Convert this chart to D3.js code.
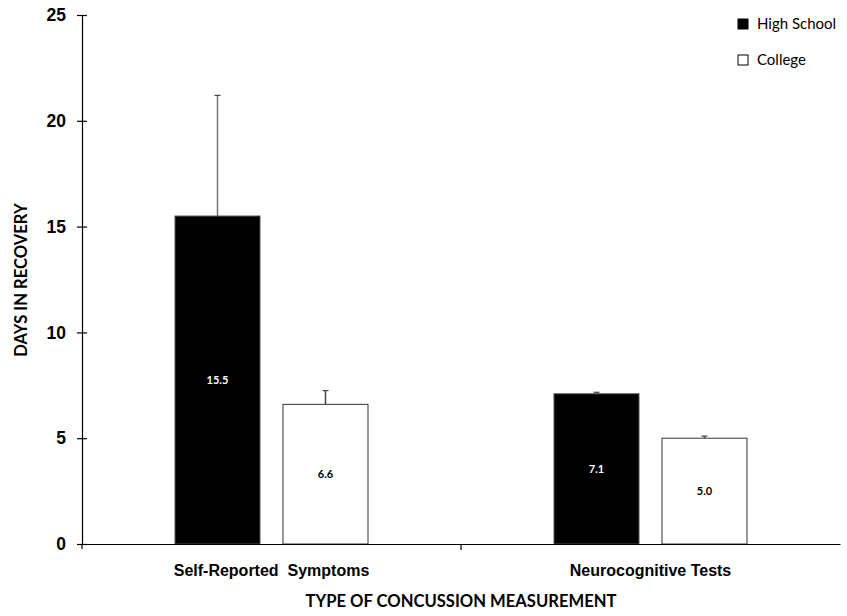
<!DOCTYPE html>
<html>
<head>
<meta charset="utf-8">
<style>
    body { margin: 0; background: #fff; }
    svg { font-family: Lato, "Open Sans", sans-serif; }
    .axis path, .axis line { stroke: #000; stroke-width: 1.2; }
    .axis text { font-weight: bold; font-size: 17.5px; fill: #000; }
    .title { font-weight: bold; font-size: 16.6px; }
    .legend text { font-size: 15px; }
</style>
</head>
<body>
<script src="https://d3js.org/d3.v7.min.js"></script>
<script>
// chart values
var categories = ["Self-Reported  Symptoms", "Neurocognitive Tests"];
var groups = ["High School", "College"];
var highSchool = [15.5, 7.1];
var highSchoolErr = [5.7, 0.07];
var college = [6.6, 5.0];
var collegeErr = [0.65, 0.1];
var yTicks = [0, 5, 10, 15, 20, 25];

var width = 847, height = 616;
var margin = { left: 82, right: 7, top: 15, bottom: 72 };

var svg = d3.select("body").append("svg")
    .attr("width", width)
    .attr("height", height);

var x = d3.scaleBand()
    .domain(categories)
    .range([margin.left, width - margin.right]);

var y = d3.scaleLinear()
    .domain([0, 25])
    .range([height - margin.bottom, margin.top]);

var barW = 85, gap = 23;

var x1 = d3.scaleOrdinal()
    .domain(groups)
    .range([-(gap / 2) - barW, gap / 2]);

var rows = [];
categories.forEach(function (c, i) {
    rows.push({ cat: c, grp: groups[0], v: highSchool[i], e: highSchoolErr[i] });
    rows.push({ cat: c, grp: groups[1], v: college[i], e: collegeErr[i] });
});

function bx(d) { return x(d.cat) + x.bandwidth() / 2 + x1(d.grp); }

// error bars (drawn first so the bar covers the lower half)
var err = svg.append("g").selectAll("g")
    .data(rows)
    .enter().append("g");

err.append("line")
    .attr("x1", function (d) { return bx(d) + barW / 2; })
    .attr("x2", function (d) { return bx(d) + barW / 2; })
    .attr("y1", function (d) { return y(d.v); })
    .attr("y2", function (d) { return y(d.v + d.e); })
    .attr("stroke", function (d) { return d.grp === groups[0] ? "#777" : "#444"; })
    .attr("stroke-width", 1.5);

err.append("line")
    .attr("x1", function (d) { return bx(d) + barW / 2 - 3; })
    .attr("x2", function (d) { return bx(d) + barW / 2 + 3; })
    .attr("y1", function (d) { return y(d.v + d.e); })
    .attr("y2", function (d) { return y(d.v + d.e); })
    .attr("stroke", "#444")
    .attr("stroke-width", 1.2);

svg.append("g").selectAll("rect")
    .data(rows)
    .enter().append("rect")
    .attr("x", bx)
    .attr("y", function (d) { return y(d.v); })
    .attr("width", barW)
    .attr("height", function (d) { return y(0) - y(d.v); })
    .attr("fill", function (d) { return d.grp === groups[0] ? "#000" : "#fff"; })
    .attr("stroke", function (d) { return d.grp === groups[0] ? "#555" : "#333"; })
    .attr("stroke-width", 1);

svg.append("g").selectAll("text")
    .data(rows)
    .enter().append("text")
    .attr("x", function (d) { return bx(d) + barW / 2; })
    .attr("y", function (d) { return (y(d.v) + y(0)) / 2; })
    .attr("dy", "0.35em")
    .attr("text-anchor", "middle")
    .attr("font-size", "11px")
    .attr("font-weight", "bold")
    .attr("fill", function (d) { return d.grp === groups[0] ? "#fff" : "#000"; })
    .text(function (d) { return d.v.toFixed(1); });

// y axis
var yAxis = svg.append("g")
    .attr("class", "axis")
    .attr("transform", "translate(" + margin.left + ",0)")
    .call(d3.axisLeft(y).tickValues(yTicks).tickSizeInner(5).tickSizeOuter(0).tickPadding(11));
yAxis.selectAll(".tick line").attr("x1", -5).attr("x2", 5);

// x axis
var xAxis = svg.append("g")
    .attr("class", "axis")
    .attr("transform", "translate(0," + y(0) + ")")
    .call(d3.axisBottom(x).tickSize(0).tickPadding(21));
xAxis.selectAll(".tick text")
    .style("white-space", "pre")
    .style("font-size", "16px");
xAxis.selectAll(".divider")
    .data([categories[0]])
    .enter().append("line")
    .attr("x1", function (d) { return x(d) + x.bandwidth(); })
    .attr("x2", function (d) { return x(d) + x.bandwidth(); })
    .attr("y1", 0).attr("y2", 6)
    .attr("stroke", "#000");
xAxis.append("line")
    .attr("x1", margin.left).attr("x2", margin.left)
    .attr("y1", 0).attr("y2", 5)
    .attr("stroke", "#000");

// axis titles
svg.append("text")
    .attr("class", "title")
    .attr("x", x(categories[0]) + x.bandwidth())
    .attr("y", 607)
    .attr("text-anchor", "middle")
    .text("TYPE OF CONCUSSION MEASUREMENT");

svg.append("text")
    .attr("class", "title")
    .attr("transform", "translate(27,280) rotate(-90)")
    .attr("text-anchor", "middle")
    .text("DAYS IN RECOVERY");

// legend
var legend = svg.append("g").attr("class", "legend")
    .selectAll("g")
    .data(groups)
    .enter().append("g")
    .attr("transform", function (d, i) { return "translate(738," + (19 + i * 36) + ")"; });

legend.append("rect")
    .attr("width", 10).attr("height", 10)
    .attr("fill", function (d, i) { return i === 0 ? "#000" : "#fff"; })
    .attr("stroke", "#000");

legend.append("text")
    .attr("x", 19).attr("y", 5).attr("dy", "0.35em")
    .text(function (d) { return d; });
</script>
</body>
</html>
